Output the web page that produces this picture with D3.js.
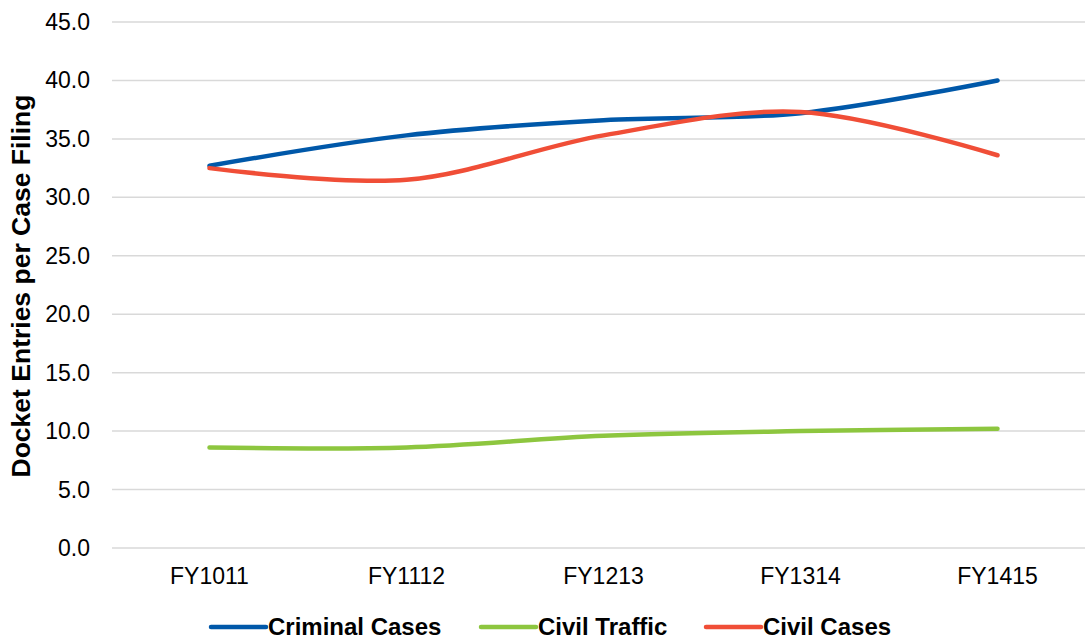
<!DOCTYPE html>
<meta charset="utf-8">
<style>
    body { margin: 0; background: #fff; }
    text { font-family: "Liberation Sans", Arial, sans-serif; }
</style>
<svg width="1085" height="639"></svg>
<script src="https://d3js.org/d3.v7.min.js"></script>
<script>
    var years = ["FY1011", "FY1112", "FY1213", "FY1314", "FY1415"];
    var criminalCases = [32.7, 35.3, 36.6, 37.2, 40.0];
    var civilTraffic = [8.6, 8.6, 9.6, 10.0, 10.2];
    var civilCases = [32.5, 31.5, 35.3, 37.3, 33.6];
    var yTicks = [0, 5, 10, 15, 20, 25, 30, 35, 40, 45];

    var series = [
        {name: "Criminal Cases", values: criminalCases, color: "#0058A9"},
        {name: "Civil Traffic", values: civilTraffic, color: "#8DC63F"},
        {name: "Civil Cases", values: civilCases, color: "#F04E37"}
    ];

    var svg = d3.select("svg"),
        plotLeft = 112, plotRight = 1085, plotTop = 22, plotBottom = 548;

    // category bands run a little past the right edge (chart is cropped there)
    var x = d3.scaleBand().domain(years).range([111, 1096]),
        y = d3.scaleLinear().domain([0, 45]).range([plotBottom, plotTop]);

    // gridlines
    svg.append("g").selectAll("line")
        .data(yTicks)
        .enter()
        .append("line")
        .attr("x1", plotLeft)
        .attr("x2", plotRight)
        .attr("y1", function (d) { return y(d); })
        .attr("y2", function (d) { return y(d); })
        .attr("stroke", "#d9d9d9")
        .attr("stroke-width", 1.5);

    svg.append("g").selectAll("text")
        .data(yTicks)
        .enter()
        .append("text")
        .attr("x", 90)
        .attr("y", function (d) { return y(d); })
        .attr("dy", "0.35em")
        .attr("text-anchor", "end")
        .attr("font-size", 23)
        .attr("fill", "#000")
        .text(function (d) { return d.toFixed(1); });

    svg.append("g").selectAll("text")
        .data(years)
        .enter()
        .append("text")
        .attr("x", function (d) { return x(d) + x.bandwidth() / 2; })
        .attr("y", 584)
        .attr("text-anchor", "middle")
        .attr("font-size", 23)
        .attr("fill", "#000")
        .text(function (d) { return d; });

    svg.append("text")
        .attr("transform", "translate(30,286) rotate(-90)")
        .attr("text-anchor", "middle")
        .attr("font-size", 26.5)
        .attr("font-weight", "bold")
        .text("Docket Entries per Case Filing");

    var line = d3.line()
        .x(function (d, i) { return x(years[i]) + x.bandwidth() / 2; })
        .y(function (d) { return y(d); })
        .curve(d3.curveCatmullRom.alpha(0.5));

    svg.append("g").selectAll("path")
        .data(series)
        .enter()
        .append("path")
        .attr("d", function (d) { return line(d.values); })
        .attr("fill", "none")
        .attr("stroke", function (d) { return d.color; })
        .attr("stroke-width", 4.5)
        .attr("stroke-linecap", "round");

    // legend
    var legendX = [211, 481, 706];
    var legend = svg.append("g").selectAll("g")
        .data(series)
        .enter()
        .append("g")
        .attr("transform", function (d, i) { return "translate(" + legendX[i] + ",627)"; });

    legend.append("line")
        .attr("x1", 0)
        .attr("x2", 55)
        .attr("stroke", function (d) { return d.color; })
        .attr("stroke-width", 4.5)
        .attr("stroke-linecap", "round");

    legend.append("text")
        .attr("x", 57)
        .attr("y", 8)
        .attr("font-size", 24)
        .attr("font-weight", "bold")
        .text(function (d) { return d.name; });
</script>
